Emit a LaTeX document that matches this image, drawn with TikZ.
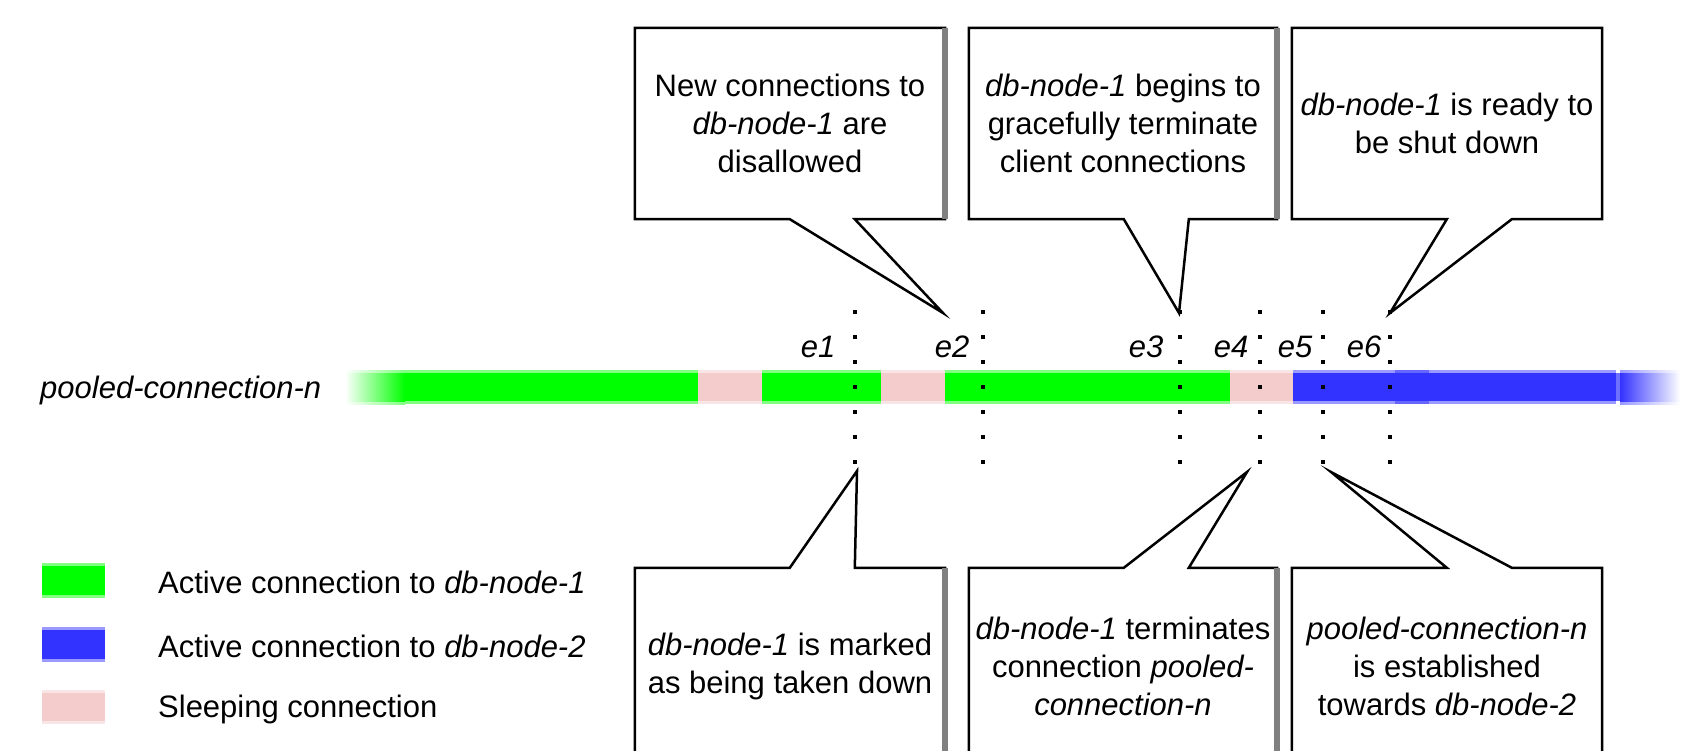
\documentclass[tikz,border=0pt]{standalone}
\usepackage{fontspec}
\setmainfont{Liberation Sans}
\usetikzlibrary{calc}
\definecolor{cgreen}{HTML}{00FF00}
\definecolor{cblue}{HTML}{3333FF}
\definecolor{cpink}{HTML}{F4CCCC}
\definecolor{edgegray}{HTML}{808080}
\newcommand\barseg[5]{%
  \fill[#1!50] (#2,#4) rectangle (#3,#5);
  \fill[#1] (#2,#4+3) rectangle (#3,#5-3);}
\begin{document}
\begin{tikzpicture}[x=1pt,y=-1pt,
  txt/.style={font=\fontsize{31}{38}\selectfont, inner sep=0pt, align=center, text=black},
  boxnode/.style={txt, draw=none, minimum height=#1},
  outline/.style={draw=black, line width=2.5pt, line join=miter},
  grayedge/.style={draw=edgegray, line width=6pt},
  elabel/.style={txt, font=\fontsize{31}{38}\selectfont\itshape},
  legtext/.style={txt, anchor=west}]
\useasboundingbox (0,0) rectangle (1697,751);
\clip (0,0) rectangle (1697,751);

% ---- main bar ----
\shade[left color=white, right color=cgreen!50] (345,370) rectangle (405,404);
\shade[left color=white, right color=cgreen] (345,373) rectangle (405,401);
\barseg{cgreen}{405}{698}{370}{404}
\barseg{cpink}{698}{762}{370}{404}
\barseg{cgreen}{762}{881}{370}{404}
\barseg{cpink}{881}{945}{370}{404}
\barseg{cgreen}{945}{1230}{370}{404}
\barseg{cpink}{1230}{1293}{370}{404}
\barseg{cblue}{1293}{1616}{370}{404}
\fill[cblue!75] (1395,370) rectangle (1429,373);
\fill[cblue!75] (1395,401) rectangle (1429,404);
\fill[cblue!70] (1616,373) rectangle (1620,401);
\shade[left color=cblue!50, right color=white] (1620,370) rectangle (1680,404);
\shade[left color=cblue, right color=white] (1620,373) rectangle (1680,401);

\node[txt, anchor=west, font=\fontsize{31}{38}\selectfont\itshape] (lbl) at (40,390) {pooled-connection-n};

% ---- event dots ----
\foreach \x [count=\i] in {855,983,1180,1260,1323,1390} {
  \coordinate (e\i) at (\x,312);
  \foreach \k in {0,...,6} \fill[black] (\x-2,312+25*\k-2) rectangle (\x+2,312+25*\k+2);
}
\node[elabel] (le1) at (818,347) {e1};
\node[elabel] (le2) at (952,347) {e2};
\node[elabel] (le3) at (1146,347) {e3};
\node[elabel] (le4) at (1231,347) {e4};
\node[elabel] (le5) at (1295,347) {e5};
\node[elabel] (le6) at (1364,347) {e6};

% ---- callout tips ----
\coordinate (t1) at (943,313);
\coordinate (t2) at (1179,313);
\coordinate (t3) at (1390,313);
\coordinate (u1) at (857,471);
\coordinate (u2) at (1247,472);
\coordinate (u3) at (1331,472);

% ---- top callouts ----
\node[boxnode=191pt, minimum width=310pt] (tb1) at (790,123.5)
  {New connections to\\\textit{db-node-1} are\\disallowed};
\node[boxnode=191pt, minimum width=308pt] (tb2) at (1123,123.5)
  {\textit{db-node-1} begins to\\gracefully terminate\\client connections};
\node[boxnode=191pt, minimum width=310pt] (tb3) at (1447,123.5)
  {\textit{db-node-1} is ready to\\be shut down};
\foreach \b/\t in {tb1/t1,tb2/t2,tb3/t3} {
  \draw[outline] (\b.south west) -- (\b.north west) -- (\b.north east) -- (\b.south east)
    -- ($(\b.south west)+(220,0)$) -- (\t) -- ($(\b.south west)+(155,0)$) -- cycle;
}
\draw[grayedge] (tb1.north east) -- (tb1.south east);
\draw[grayedge] (tb2.north east) -- (tb2.south east);

% ---- bottom callouts ----
\node[boxnode=196pt, minimum width=310pt] (bb1) at (790,666)
  {\textit{db-node-1} is marked\\as being taken down};
\node[boxnode=196pt, minimum width=308pt] (bb2) at (1123,666)
  {\textit{db-node-1} terminates\\connection \textit{pooled-}\\\textit{connection-n}};
\node[boxnode=196pt, minimum width=310pt] (bb3) at (1447,666)
  {\textit{pooled-connection-n}\\is established\\towards \textit{db-node-2}};
\foreach \b/\t in {bb1/u1,bb2/u2,bb3/u3} {
  \draw[outline] (\b.south west) -- (\b.north west) -- ($(\b.north west)+(155,0)$) -- (\t)
    -- ($(\b.north west)+(220,0)$) -- (\b.north east) -- (\b.south east);
}
\draw[grayedge] (bb1.north east) -- (bb1.south east);
\draw[grayedge] (bb2.north east) -- (bb2.south east);

% ---- legend ----
\barseg{cgreen}{42}{105}{563}{598}
\barseg{cblue}{42}{105}{627}{662}
\barseg{cpink}{42}{105}{690}{724}
\node[legtext] (lg1) at (158,582) {Active connection to \textit{db-node-1}};
\node[legtext] (lg2) at (158,646) {Active connection to \textit{db-node-2}};
\node[legtext] (lg3) at (158,709) {Sleeping connection};
\end{tikzpicture}
\end{document}
